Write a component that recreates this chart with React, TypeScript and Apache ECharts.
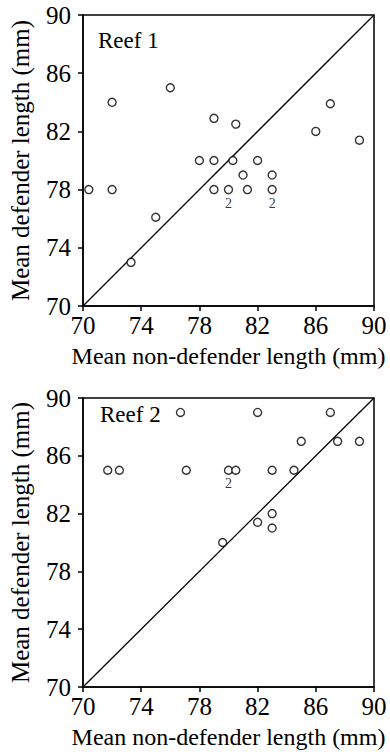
import React, { useEffect, useRef } from "react";
import * as echarts from "echarts";

// Reef 1 data: mean non-defender length (x), mean defender length (y), count label
const reef1X = [70.4, 72, 72, 73.3, 75, 76, 78, 79, 79, 79, 80, 80.3, 80.5, 81, 81.3, 82, 83, 83, 86, 87, 89];
const reef1Y = [78, 84, 78, 73, 76.1, 85, 80, 82.9, 80, 78, 78, 80, 82.5, 79, 78, 80, 79, 78, 82, 83.9, 81.4];
const reef1N = [1, 1, 1, 1, 1, 1, 1, 1, 1, 1, 2, 1, 1, 1, 1, 1, 1, 2, 1, 1, 1];

// Reef 2 data
const reef2X = [76.7, 82, 87, 85, 87.5, 89, 71.7, 72.5, 77.1, 80, 80.5, 83, 84.5, 83, 82, 83, 79.6];
const reef2Y = [89, 89, 89, 87, 87, 87, 85, 85, 85, 85, 85, 85, 85, 82, 81.4, 81, 80];
const reef2N = [1, 1, 1, 1, 1, 1, 1, 1, 1, 2, 1, 1, 1, 1, 1, 1, 1];

const tickLabels = [70, 74, 78, 82, 86, 90];
const identityLine = [
  [70, 70],
  [90, 90],
];
const panelTitles = ["Reef 1", "Reef 2"];
const xName = "Mean non-defender length (mm)";
const yName = "Mean defender length (mm)";

const FONT = "Liberation Serif";

function buildPoints(xs: number[], ys: number[], ns: number[]) {
  return xs.map((x, i) => {
    const item: any = { value: [x, ys[i]] };
    if (ns[i] > 1) {
      item.label = {
        show: true,
        formatter: String(ns[i]),
        position: "bottom",
        distance: 2,
        fontSize: 14,
        fontFamily: FONT,
        color: "#000",
      };
    }
    return item;
  });
}

export default function App() {
  const ref = useRef<HTMLDivElement>(null);

  useEffect(() => {
    if (!ref.current) return;
    const chart = echarts.init(ref.current, undefined, { renderer: "svg" });

    const grids = [
      { left: 82, top: 15, width: 292, height: 291 },
      { left: 82, top: 398, width: 292, height: 289 },
    ];

    const axisCommon = {
      type: "value" as const,
      min: tickLabels[0],
      max: tickLabels[tickLabels.length - 1],
      interval: tickLabels[1] - tickLabels[0],
      nameLocation: "middle" as const,
      axisLine: { show: true, lineStyle: { color: "#000", width: 1.5 } },
      axisTick: { show: true, inside: false, length: 5, lineStyle: { color: "#000", width: 1.5 } },
      splitLine: { show: false },
    };

    const xAxes = grids.map((_, i) => ({
      ...axisCommon,
      gridIndex: i,
      name: xName,
      nameGap: 38,
      nameTextStyle: { fontFamily: FONT, fontSize: 24, color: "#000" },
      axisLabel: { fontFamily: FONT, fontSize: 25, color: "#000", margin: 7 },
    }));
    const yAxes = grids.map((_, i) => ({
      ...axisCommon,
      gridIndex: i,
      name: yName,
      nameGap: 50,
      nameTextStyle: { fontFamily: FONT, fontSize: 25, color: "#000" },
      axisLabel: { fontFamily: FONT, fontSize: 25, color: "#000", margin: 12 },
    }));

    const datasets = [
      buildPoints(reef1X, reef1Y, reef1N),
      buildPoints(reef2X, reef2Y, reef2N),
    ];

    const series: any[] = [];
    datasets.forEach((d, i) => {
      series.push({
        type: "line",
        xAxisIndex: i,
        yAxisIndex: i,
        data: identityLine,
        symbol: "none",
        lineStyle: { color: "#000", width: 1.3 },
        silent: true,
        z: 1,
      });
      series.push({
        type: "scatter",
        xAxisIndex: i,
        yAxisIndex: i,
        data: d,
        symbol: "circle",
        symbolSize: 8,
        itemStyle: { color: "#fff", borderColor: "#000", borderWidth: 1.4 },
        z: 3,
      });
    });

    chart.setOption({
      animation: false,
      backgroundColor: "#fff",
      grid: grids.map((g) => ({
        ...g,
        show: true,
        borderColor: "#000",
        borderWidth: 1.5,
        backgroundColor: "transparent",
        containLabel: false,
      })),
      xAxis: xAxes,
      yAxis: yAxes,
      series,
      graphic: [
        {
          type: "text",
          left: 98,
          top: 29,
          style: { text: panelTitles[0], fontFamily: FONT, fontSize: 23, fill: "#000" },
        },
        {
          type: "text",
          left: 100,
          top: 403,
          style: { text: panelTitles[1], fontFamily: FONT, fontSize: 23, fill: "#000" },
        },
      ],
    });

    return () => chart.dispose();
  }, []);

  return (
    <div
      ref={ref}
      style={{ position: "absolute", left: 0, top: 0, width: 390, height: 752, background: "#fff", overflow: "hidden" }}
    />
  );
}
